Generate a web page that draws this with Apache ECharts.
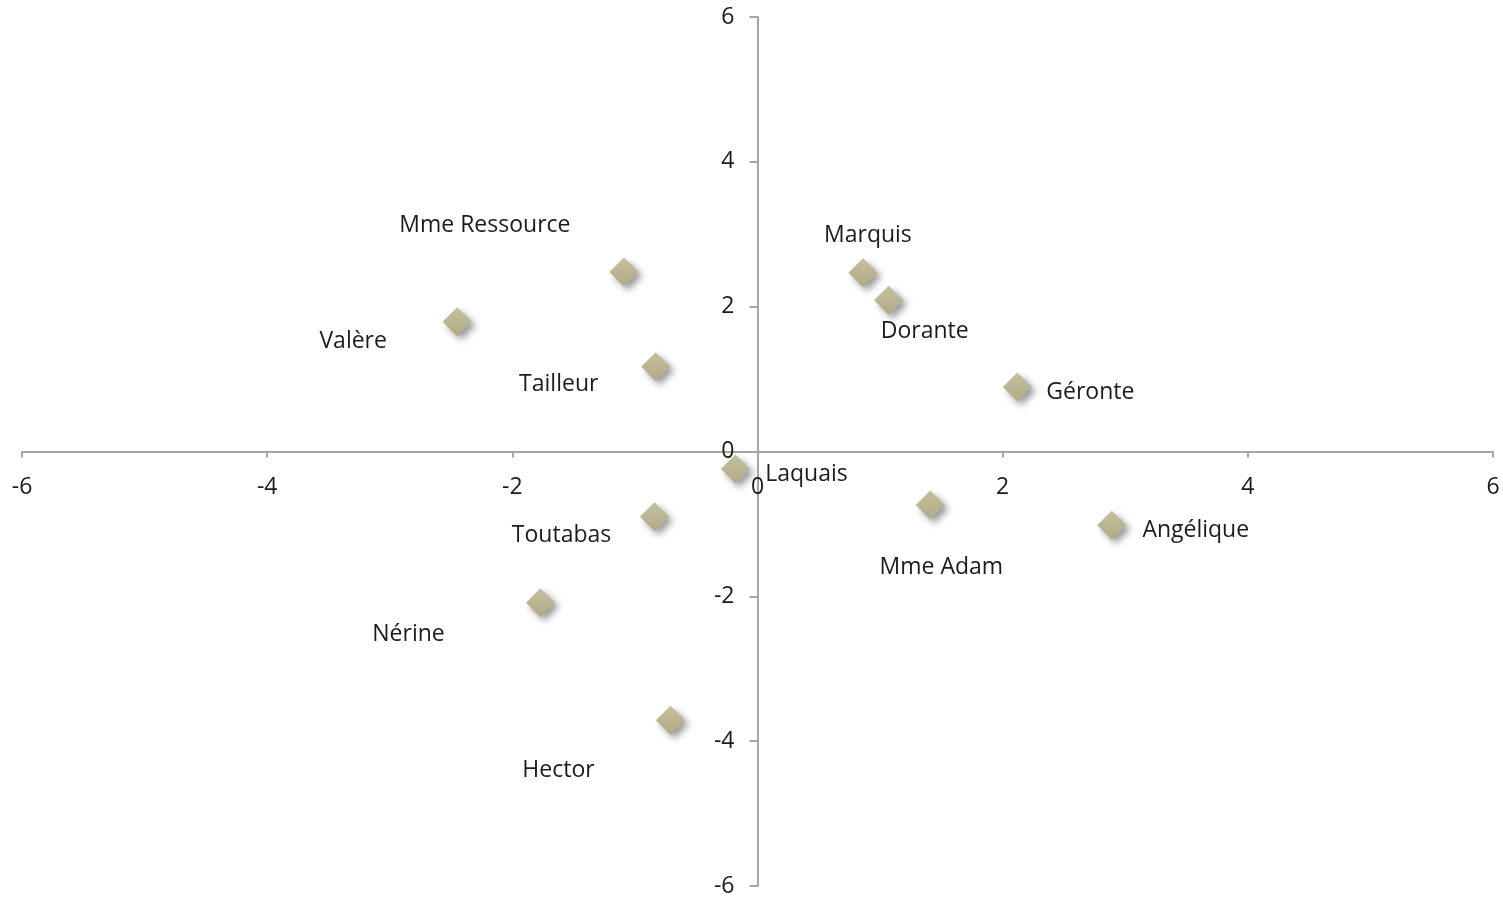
<!DOCTYPE html>
<html>
<head>
<meta charset="utf-8">
<title>Personnages</title>
<script src="https://cdn.jsdelivr.net/npm/echarts@6/dist/echarts.min.js"></script>
<style>
  html, body { margin: 0; padding: 0; background: #fff; }
  #main { width: 1503px; height: 898px; }
</style>
</head>
<body>
<div id="main"></div>
<script>
// donnees
var names = ['Mme Ressource', 'Valère', 'Tailleur', 'Marquis', 'Dorante', 'Géronte',
  'Laquais', 'Toutabas', 'Mme Adam', 'Angélique', 'Nérine', 'Hector'];
var xValues = [-1.09, -2.45, -0.83, 0.86, 1.07, 2.12, -0.18, -0.84, 1.41, 2.89, -1.77, -0.71];
var yValues = [2.48, 1.79, 1.17, 2.47, 2.09, 0.89, -0.24, -0.90, -0.74, -1.02, -2.09, -3.71];

// decalage des etiquettes (px) par rapport au point
var labelOffsets = [[-139, -46], [-104, 20], [-97, 18], [5, -37], [36, 31], [73, 5],
  [71, 6], [-93, 19], [11, 62], [84, 5], [-132, 32], [-112, 50]];

var W = 1503, H = 898;
var gridBox = { left: 22, right: 10, top: 17, bottom: 12 };
var gridW = W - gridBox.left - gridBox.right;
var gridH = H - gridBox.top - gridBox.bottom;

var chart = echarts.init(document.getElementById('main'));

var points = [];
for (var i = 0; i < names.length; i++) {
  points.push({
    name: names[i],
    value: [xValues[i], yValues[i]],
    label: { offset: labelOffsets[i] }
  });
}

var axisFont = { color: '#1c1b18', fontSize: 23, fontFamily: 'Open Sans' };
var lineStyle = { color: '#a6a6a6', width: 2 };

var option = {
  backgroundColor: '#fff',
  animation: false,
  grid: {
    left: gridBox.left, right: gridBox.right, top: gridBox.top, bottom: gridBox.bottom,
    containLabel: false,
    outerBoundsMode: 'none'
  },
  xAxis: {
    type: 'value',
    min: -6,
    max: 6,
    interval: 2,
    position: 'bottom',
    offset: -gridH / 2,   // axe au milieu (y = 0)
    splitLine: { show: false },
    axisLine: { onZero: false, lineStyle: lineStyle },
    axisTick: { show: true, length: 6, lineStyle: lineStyle },
    axisLabel: Object.assign({ margin: 24, showMinLabel: true, showMaxLabel: true, hideOverlap: false }, axisFont)
  },
  yAxis: {
    type: 'value',
    min: -6,
    max: 6,
    interval: 2,
    position: 'left',
    offset: -gridW / 2,   // axe au milieu (x = 0)
    splitLine: { show: false },
    axisLine: { onZero: false, lineStyle: lineStyle },
    axisTick: { show: true, length: 8, lineStyle: lineStyle },
    axisLabel: Object.assign({ margin: 23, showMinLabel: true, showMaxLabel: true, hideOverlap: false }, axisFont)
  },
  series: [{
    type: 'scatter',
    symbol: 'diamond',
    symbolSize: 29,
    data: points,
    itemStyle: {
      opacity: 1,
      color: new echarts.graphic.LinearGradient(0, 0, 0, 1, [
        { offset: 0, color: '#c4bf9e' },
        { offset: 1, color: '#b0aa87' }
      ]),
      shadowBlur: 7,
      shadowOffsetX: 4,
      shadowOffsetY: 4,
      shadowColor: 'rgba(0,0,0,0.4)'
    },
    label: {
      show: true,
      position: 'inside',
      formatter: '{b}',
      color: '#1c1b18',
      textBorderWidth: 0,
      textBorderColor: 'transparent',
      fontSize: 23,
      fontFamily: 'Open Sans'
    },
    emphasis: { disabled: true }
  }]
};

chart.setOption(option);
</script>
</body>
</html>
